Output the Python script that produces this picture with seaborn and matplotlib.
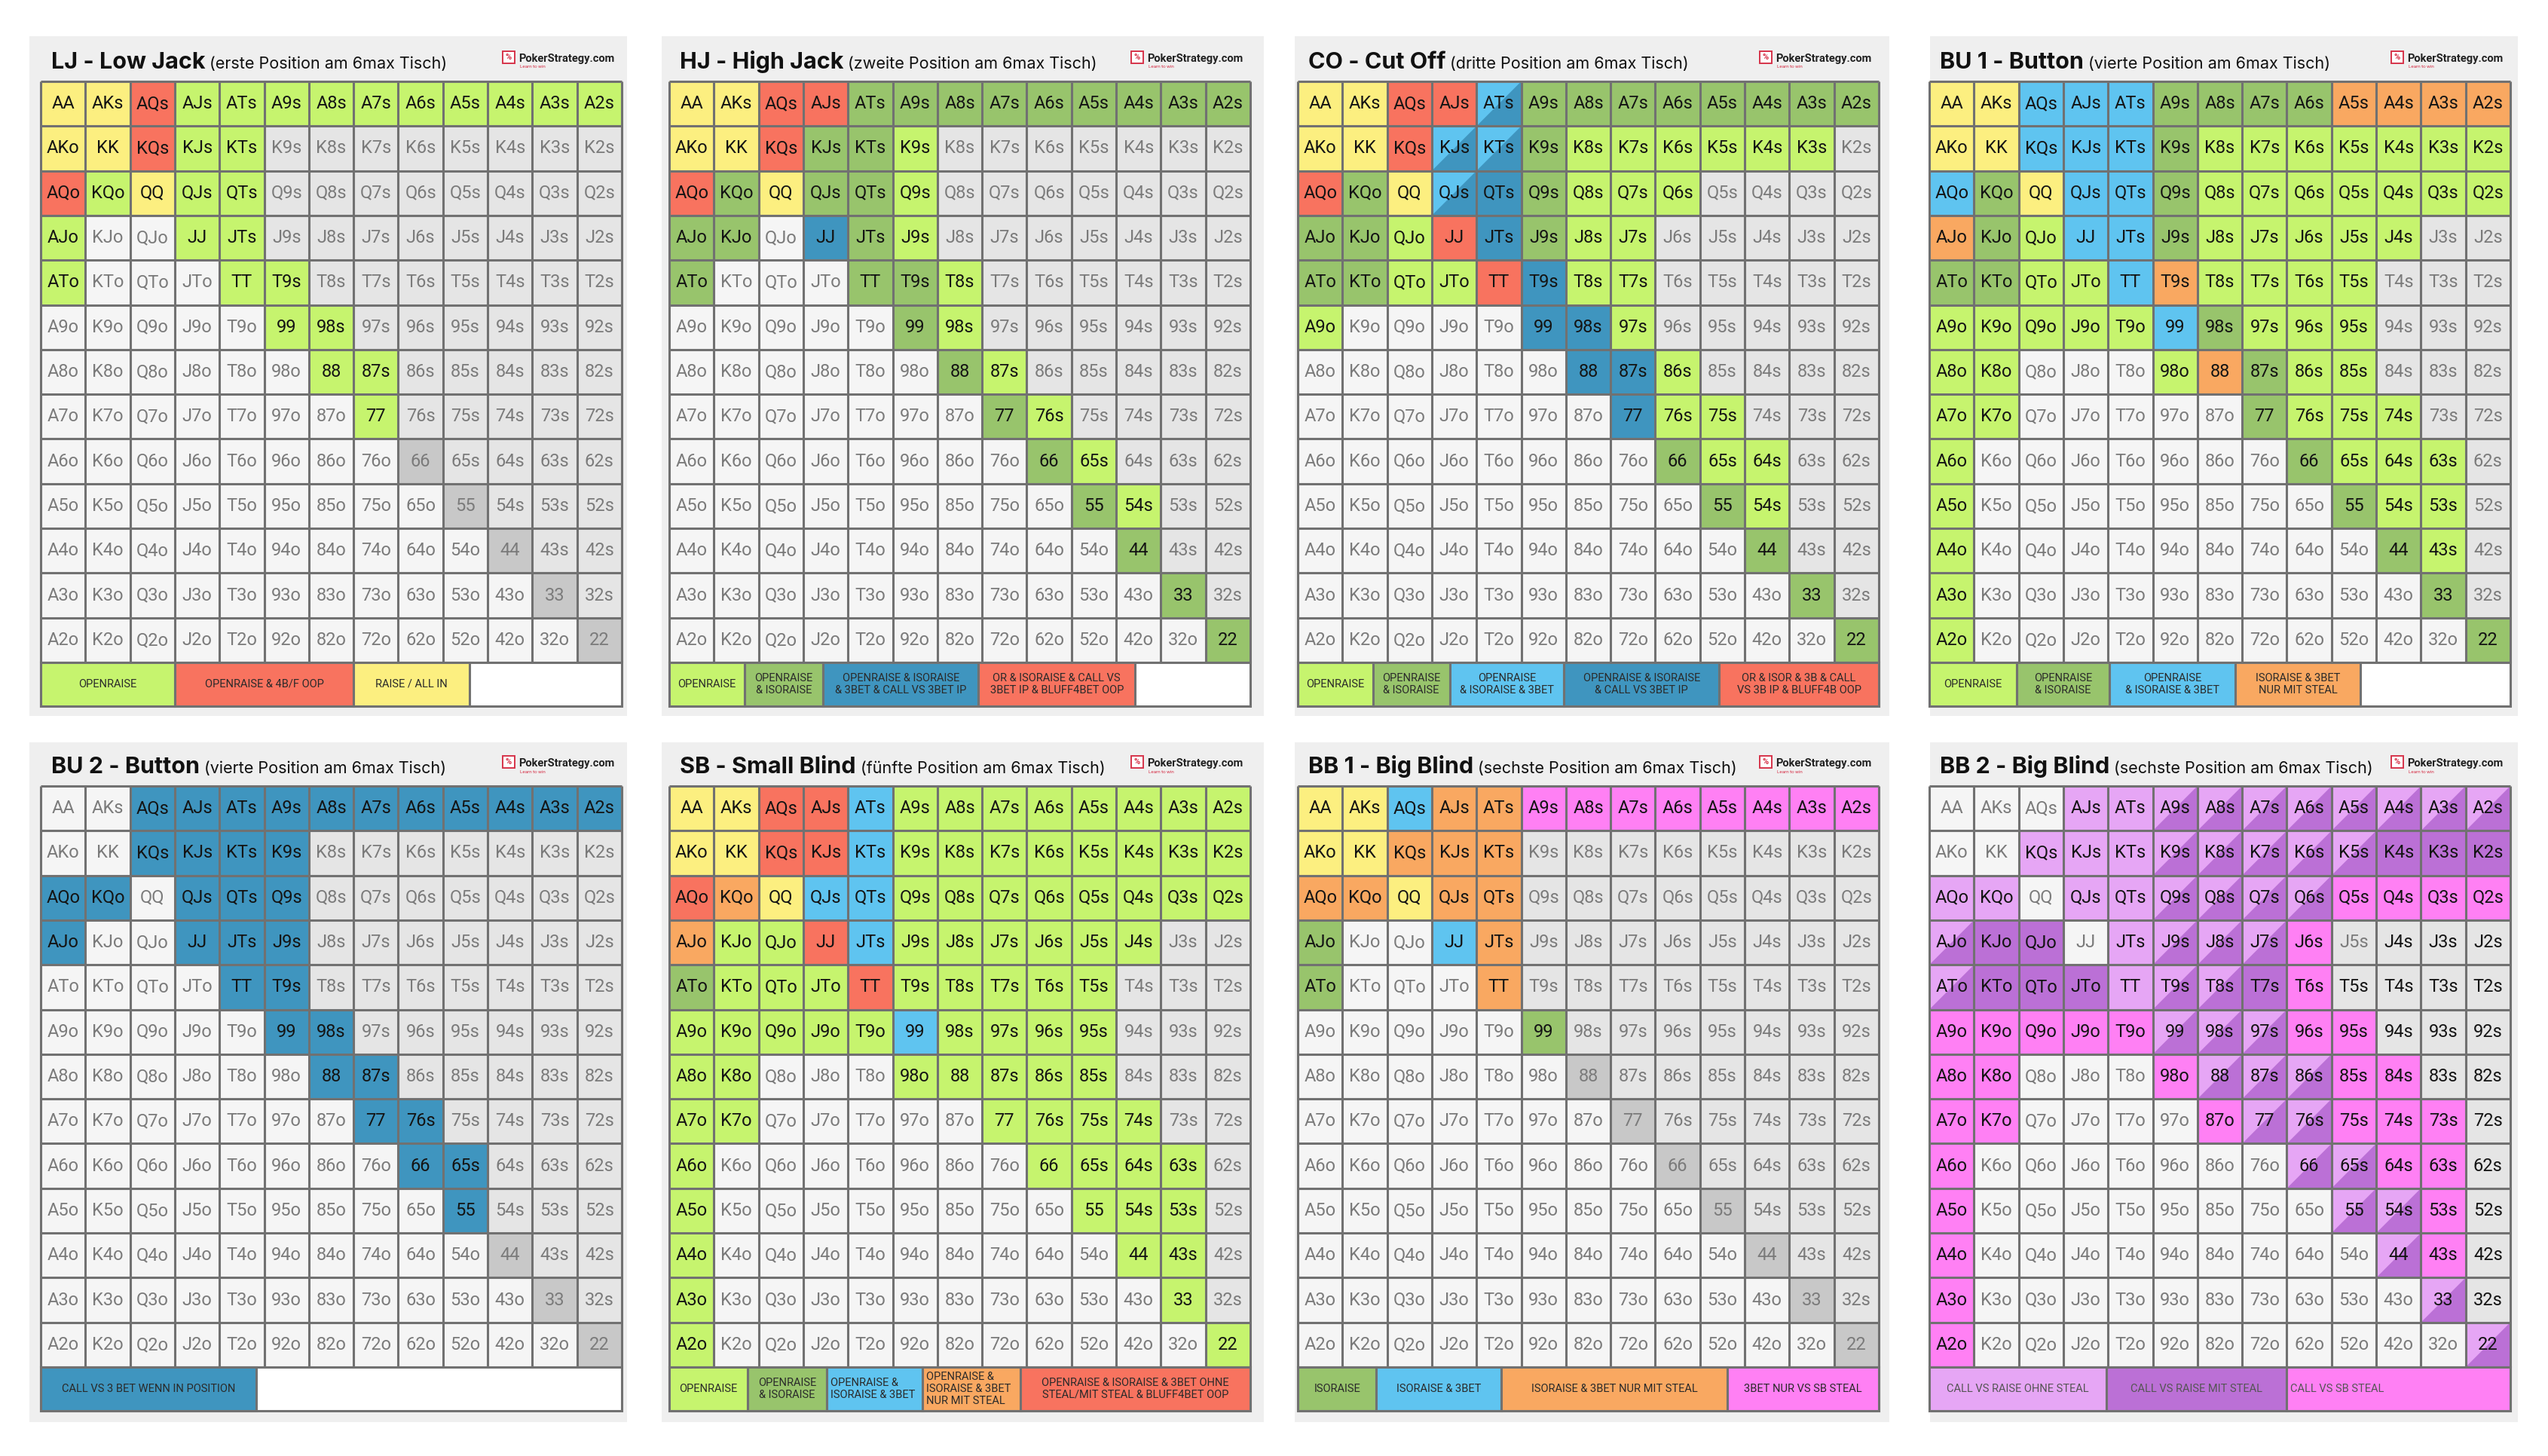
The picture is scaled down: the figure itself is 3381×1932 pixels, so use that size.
import numpy as np
import pandas as pd
import matplotlib
matplotlib.use("Agg")
import matplotlib.pyplot as plt
from matplotlib.colors import ListedColormap
from matplotlib.patches import Rectangle, Polygon
import seaborn as sns

# %% DATA ~~~~~~~~~~~~~~~~~~~~~~~~~~~~~~~~~~~~~~~~~~~~~~~~~~~~~~~~~~~~~~~~~~

RANKS = list("AKQJT98765432")

# "." = not played (suited grey, offsuit white, pair dark grey)
# two letters = split cell (upper-left / lower-right)
LJ_GRID = [
    "y y r L L L L L L L L L L",
    "y y r L L . . . . . . . .",
    "r L y L L . . . . . . . .",
    "L . . L L . . . . . . . .",
    "L . . . L L . . . . . . .",
    ". . . . . L L . . . . . .",
    ". . . . . . L L . . . . .",
    ". . . . . . . L . . . . .",
    ". . . . . . . . . . . . .",
    ". . . . . . . . . . . . .",
    ". . . . . . . . . . . . .",
    ". . . . . . . . . . . . .",
    ". . . . . . . . . . . . .",
]
HJ_GRID = [
    "y y r r D D D D D D D D D",
    "y y r D D L . . . . . . .",
    "r D y D D L . . . . . . .",
    "D D . B D L . . . . . . .",
    "D . . . D D L . . . . . .",
    ". . . . . D L . . . . . .",
    ". . . . . . D L . . . . .",
    ". . . . . . . D L . . . .",
    ". . . . . . . . D L . . .",
    ". . . . . . . . . D L . .",
    ". . . . . . . . . . D . .",
    ". . . . . . . . . . . D .",
    ". . . . . . . . . . . . D",
]
CO_GRID = [
    "y y r r bB D D D D D D D D",
    "y y r bB bB D L L L L L L .",
    "r D y bB B D L L L . . . .",
    "D D L r B D L L . . . . .",
    "D D L L r B L L . . . . .",
    "L . . . . B B L . . . . .",
    ". . . . . . B B L . . . .",
    ". . . . . . . B L L . . .",
    ". . . . . . . . D L L . .",
    ". . . . . . . . . D L . .",
    ". . . . . . . . . . D . .",
    ". . . . . . . . . . . D .",
    ". . . . . . . . . . . . D",
]
BU1_GRID = [
    "y y b b b D D D D o o o o",
    "y y b b b D L L L L L L L",
    "b D y b b D L L L L L L L",
    "o D L b b D L L L L L . .",
    "D D L L b o L L L L . . .",
    "L L L L L b D L L L . . .",
    "L L . . . L o D L L . . .",
    "L L . . . . . D L L L . .",
    "L . . . . . . . D L L L .",
    "L . . . . . . . . D L L .",
    "L . . . . . . . . . D L .",
    "L . . . . . . . . . . D .",
    "L . . . . . . . . . . . D",
]
BU2_GRID = [
    "w w B B B B B B B B B B B",
    "w w B B B B . . . . . . .",
    "B B w B B B . . . . . . .",
    "B . . B B B . . . . . . .",
    ". . . . B B . . . . . . .",
    ". . . . . B B . . . . . .",
    ". . . . . . B B . . . . .",
    ". . . . . . . B B . . . .",
    ". . . . . . . . B B . . .",
    ". . . . . . . . . B . . .",
    ". . . . . . . . . . . . .",
    ". . . . . . . . . . . . .",
    ". . . . . . . . . . . . .",
]
SB_GRID = [
    "y y r r b L L L L L L L L",
    "y y r r b L L L L L L L L",
    "r o y b b L L L L L L L L",
    "o L L r b L L L L L L . .",
    "D L L L r L L L L L . . .",
    "L L L L L b L L L L . . .",
    "L L . . . L L L L L . . .",
    "L L . . . . . L L L L . .",
    "L . . . . . . . L L L L .",
    "L . . . . . . . . L L L .",
    "L . . . . . . . . . L L .",
    "L . . . . . . . . . . L .",
    "L . . . . . . . . . . . L",
]
BB1_GRID = [
    "y y b o o m m m m m m m m",
    "y y o o o . . . . . . . .",
    "o o y o o . . . . . . . .",
    "D . . b o . . . . . . . .",
    "D . . . o . . . . . . . .",
    ". . . . . D . . . . . . .",
    ". . . . . . . . . . . . .",
    ". . . . . . . . . . . . .",
    ". . . . . . . . . . . . .",
    ". . . . . . . . . . . . .",
    ". . . . . . . . . . . . .",
    ". . . . . . . . . . . . .",
    ". . . . . . . . . . . . .",
]
BB2_GRID = [
    "w w w v v vV vV vV vV vV vV vV vV",
    "w w v v v vV vV vV vV vV V V V",
    "v v w v v vV vV vV vV m m m m",
    "vV V V w v vV vV vV m . G G G",
    "vV V V V v vV vV V m G G G G",
    "m m m m m vV vV vV m m G G G",
    "m m . . . m vV vV vV m m G G",
    "m m . . . . m vV vV m m m G",
    "m . . . . . . . vV vV m m G",
    "m . . . . . . . . vV vV m G",
    "m . . . . . . . . . vV m G",
    "m . . . . . . . . . . vV G",
    "m . . . . . . . . . . . vV",
]

LJ_TITLE = ["LJ - Low Jack", "(erste Position am 6max Tisch)"]
HJ_TITLE = ["HJ - High Jack", "(zweite Position am 6max Tisch)"]
CO_TITLE = ["CO - Cut Off", "(dritte Position am 6max Tisch)"]
BU1_TITLE = ["BU 1 - Button", "(vierte Position am 6max Tisch)"]
BU2_TITLE = ["BU 2 - Button", "(vierte Position am 6max Tisch)"]
SB_TITLE = ["SB - Small Blind", "(fünfte Position am 6max Tisch)"]
BB1_TITLE = ["BB 1 - Big Blind", "(sechste Position am 6max Tisch)"]
BB2_TITLE = ["BB 2 - Big Blind", "(sechste Position am 6max Tisch)"]

LJ_LEGEND = [("OPENRAISE", "L"), ("OPENRAISE & 4B/F OOP", "r"), ("RAISE / ALL IN", "y")]
HJ_LEGEND = [("OPENRAISE", "L"), ("OPENRAISE\n& ISORAISE", "D"),
             ("OPENRAISE & ISORAISE\n& 3BET & CALL VS 3BET IP", "B"),
             ("OR & ISORAISE & CALL VS\n3BET IP & BLUFF4BET OOP", "r")]
CO_LEGEND = [("OPENRAISE", "L"), ("OPENRAISE\n& ISORAISE", "D"),
             ("OPENRAISE\n& ISORAISE & 3BET", "b"),
             ("OPENRAISE & ISORAISE\n& CALL VS 3BET IP", "B"),
             ("OR & ISOR & 3B & CALL\nVS 3B IP & BLUFF4B OOP", "r")]
BU1_LEGEND = [("OPENRAISE", "L"), ("OPENRAISE\n& ISORAISE", "D"),
              ("OPENRAISE\n& ISORAISE & 3BET", "b"),
              ("ISORAISE & 3BET\nNUR MIT STEAL", "o")]
BU2_LEGEND = [("CALL VS 3 BET WENN IN POSITION", "B")]
SB_LEGEND = [("OPENRAISE", "L"), ("OPENRAISE\n& ISORAISE", "D"),
             ("OPENRAISE &\nISORAISE & 3BET", "b"),
             ("OPENRAISE &\nISORAISE & 3BET\nNUR MIT STEAL", "o"),
             ("OPENRAISE & ISORAISE & 3BET OHNE\nSTEAL/MIT STEAL & BLUFF4BET OOP", "r")]
BB1_LEGEND = [("ISORAISE", "D"), ("ISORAISE & 3BET", "b"),
              ("ISORAISE & 3BET NUR MIT STEAL", "o"), ("3BET NUR VS SB STEAL", "m")]
BB2_LEGEND = [("CALL VS RAISE OHNE STEAL", "v"), ("CALL VS RAISE MIT STEAL", "V"),
              ("CALL VS SB STEAL", "m")]

# %% STYLE / LAYOUT ~~~~~~~~~~~~~~~~~~~~~~~~~~~~~~~~~~~~~~~~~~~~~~~~~~~~~~~~~

COLORS = {
    "w": "#f5f5f5", "g": "#e5e5e5", "p": "#c8c8c8", "G": "#e5e5e5",
    "y": "#fcef80", "r": "#f8735f", "L": "#c6f46e", "D": "#98c46c",
    "b": "#5fc4f0", "B": "#3f95bf", "o": "#f9a861", "m": "#ff80f4",
    "v": "#e6a6f5", "V": "#bb70d6",
}
GREY_TEXT = {"w", "g", "p"}
LINE = "#717171"
PANEL_BG = "#efefef"

# legend block widths in cells, and text alignment
LEGEND_WIDTHS = {
    "LJ": [3, 4, 2.6], "HJ": [1.68, 1.76, 3.48, 3.5],
    "CO": [1.68, 1.72, 2.56, 3.47, 3.57], "BU1": [1.95, 2.08, 2.81, 2.81],
    "BU2": [4.83], "SB": [1.76, 1.76, 2.15, 2.18, 5.15],
    "BB1": [1.76, 2.8, 5.05, 3.39], "BB2": [3.96, 4.03, 5.01],
}
LEGEND_LEFT = {("SB", 2), ("SB", 3), ("BB2", 2)}

W, H = 3381, 1932
GRID_LEFT = [54, 888, 1722, 2560]
GRID_TOP = [108, 1043]
GRID_SIZE = 771
LEG_H = 58
BG_X = [(39, 832), (878, 1677), (1718, 2507), (2561, 3341)]
BG_Y = [(48, 950), (985, 1887)]

PANELS = [
    ("LJ", LJ_TITLE, LJ_GRID, LJ_LEGEND), ("HJ", HJ_TITLE, HJ_GRID, HJ_LEGEND),
    ("CO", CO_TITLE, CO_GRID, CO_LEGEND), ("BU1", BU1_TITLE, BU1_GRID, BU1_LEGEND),
    ("BU2", BU2_TITLE, BU2_GRID, BU2_LEGEND), ("SB", SB_TITLE, SB_GRID, SB_LEGEND),
    ("BB1", BB1_TITLE, BB1_GRID, BB1_LEGEND), ("BB2", BB2_TITLE, BB2_GRID, BB2_LEGEND),
]

sns.set_theme(style="white")
plt.rcParams["font.family"] = ["Roboto", "DejaVu Sans"]
TITLE_FONT = ["Inter", "Roboto", "DejaVu Sans"]


def hand(i, j):
    if i == j:
        return RANKS[i] * 2
    if j > i:
        return RANKS[i] + RANKS[j] + "s"
    return RANKS[j] + RANKS[i] + "o"


def resolve(code, i, j):
    if code != ".":
        return code
    if i == j:
        return "p"
    return "g" if j > i else "w"


def px_rect(x, y, w, h):
    return [x / W, 1 - (y + h) / H, w / W, h / H]


fig = plt.figure(figsize=(W / 100, H / 100), dpi=100)
fig.patch.set_facecolor("white")
renderer = fig.canvas.get_renderer()
code_list = list(COLORS.keys())
cmap = ListedColormap([COLORS[c] for c in code_list])

for k, (key, title, grid, legend) in enumerate(PANELS):
    row, col = divmod(k, 4)
    gx, gy = GRID_LEFT[col], GRID_TOP[row]
    bx0, bx1 = BG_X[col]
    by0, by1 = BG_Y[row]
    fig.add_artist(Rectangle((bx0 / W, 1 - by1 / H), (bx1 - bx0) / W, (by1 - by0) / H,
                             transform=fig.transFigure, facecolor=PANEL_BG,
                             edgecolor="none", zorder=-5))

    codes = [[resolve(c, i, j) for j, c in enumerate(line.split())]
             for i, line in enumerate(grid)]
    base = np.array([[code_list.index(c[-1]) for c in r] for r in codes])
    labels = np.array([[hand(i, j) for j in range(13)] for i in range(13)])

    ax = fig.add_axes(px_rect(gx, gy, GRID_SIZE, GRID_SIZE))
    sns.heatmap(pd.DataFrame(base), ax=ax, cmap=cmap, vmin=-0.5,
                vmax=len(code_list) - 0.5, cbar=False, annot=labels, fmt="",
                xticklabels=False, yticklabels=False, linewidths=0,
                annot_kws={"fontsize": 17, "fontfamily": "Roboto"})
    # split cells: light upper-left triangle
    for i in range(13):
        for j in range(13):
            c = codes[i][j]
            if len(c) == 2:
                ax.add_patch(Polygon([(j, i), (j + 1, i), (j, i + 1)], closed=True,
                                     facecolor=COLORS[c[0]], edgecolor="none",
                                     zorder=1.5))
    for t in ax.texts:
        x, y = t.get_position()
        c = codes[int(y)][int(x)]
        t.set_color("#7b7b7b" if c in GREY_TEXT else "#141414")
        t.set_zorder(4)
    ax.hlines(range(14), 0, 13, color=LINE, lw=2.2, zorder=3, clip_on=False)
    ax.vlines(range(14), 0, 13, color=LINE, lw=2.2, zorder=3, clip_on=False)
    ax.set_xlim(0, 13)
    ax.set_ylim(13, 0)

    # legend row
    lax = fig.add_axes(px_rect(gx, gy + GRID_SIZE, GRID_SIZE, LEG_H))
    lax.set_xlim(0, 13)
    lax.set_ylim(0, 1)
    lax.axis("off")
    lax.add_patch(Rectangle((0, 0), 13, 1, facecolor="white", edgecolor=LINE,
                            lw=2.2, clip_on=False))
    x0 = 0
    txt_col = "#555555" if key == "BB2" else "#2a2a2a"
    for n, ((label, code), width) in enumerate(zip(legend, LEGEND_WIDTHS[key])):
        lax.add_patch(Rectangle((x0, 0), width, 1, facecolor=COLORS[code],
                                edgecolor=LINE, lw=2.2, clip_on=False))
        if (key, n) in LEGEND_LEFT:
            lax.text(x0 + 0.08, 0.5, label, ha="left", va="center", fontsize=10.5,
                     color=txt_col, linespacing=1.15)
        else:
            lax.text(x0 + width / 2, 0.5, label, ha="center", va="center",
                     fontsize=10.5, color=txt_col, linespacing=1.15)
        x0 += width

    # title: bold part + regular part
    ty = gy - 17
    tx = gx + 14
    t1 = fig.text(tx / W, 1 - ty / H, title[0], fontsize=22, fontweight="bold",
                  family=TITLE_FONT, color="#111111", va="baseline", ha="left")
    w1 = t1.get_window_extent(renderer=renderer).width
    fig.text((tx + w1 + 6) / W, 1 - ty / H, title[1], fontsize=15.5,
             family=TITLE_FONT, color="#111111", va="baseline", ha="left")

    # logo
    lx = gx + GRID_SIZE - 10
    ly = gy - 26
    t3 = fig.text(lx / W, 1 - ly / H, "PokerStrategy.com", fontsize=10.5,
                  fontweight="bold", color="#222222", va="baseline", ha="right")
    w3 = t3.get_window_extent(renderer=renderer).width
    sx = lx - w3 - 21
    fig.add_artist(Rectangle((sx / W, 1 - (ly + 2) / H), 16 / W, 16 / H,
                             transform=fig.transFigure, facecolor="white",
                             edgecolor="#d6334a", lw=1.4))
    fig.text((sx + 8) / W, 1 - (ly - 6) / H, "%", fontsize=8, fontweight="bold",
             color="#d6334a", ha="center", va="center")
    fig.text((lx - w3 + 2) / W, 1 - (ly + 7) / H, "Learn to win", fontsize=4.5,
             color="#d6334a", ha="left", va="center")

fig.savefig("out.png", dpi=100)
